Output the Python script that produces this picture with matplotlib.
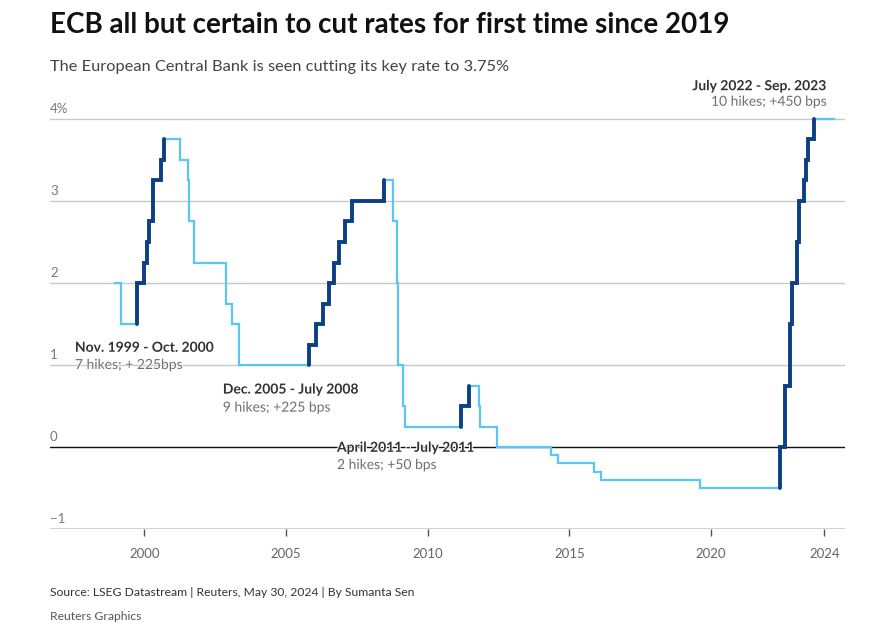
import numpy as np
import matplotlib.pyplot as plt
import matplotlib.transforms as mtransforms
import matplotlib.patheffects as pe

plt.rcParams['font.family'] = ['Lato', 'DejaVu Sans']

# ECB deposit rate: dates of each change (decimal years) and the new rate (%)
change_dates = [1998.96, 1999.17, 1999.75, 2000.00, 2000.08, 2000.17, 2000.31, 2000.59, 2000.68,
                2001.26, 2001.53, 2001.59, 2001.76, 2002.87, 2003.10, 2003.34,
                2005.82, 2006.06, 2006.32, 2006.52, 2006.68, 2006.87, 2007.08, 2007.34, 2008.46,
                2008.76, 2008.91, 2008.94, 2009.14, 2009.20,
                2011.16, 2011.46, 2011.81, 2011.86, 2012.46,
                2014.35, 2014.61, 2015.86, 2016.12, 2019.61,
                2022.44, 2022.62, 2022.79, 2022.87, 2023.02, 2023.11, 2023.27, 2023.35, 2023.43,
                2023.64, 2024.35]
rates = [2.0, 1.5, 2.0, 2.25, 2.5, 2.75, 3.25, 3.5, 3.75,
         3.5, 3.25, 2.75, 2.25, 1.75, 1.5, 1.0,
         1.25, 1.5, 1.75, 2.0, 2.25, 2.5, 2.75, 3.0, 3.25,
         2.75, 2.0, 1.0, 0.5, 0.25,
         0.5, 0.75, 0.5, 0.25, 0.0,
         -0.1, -0.2, -0.3, -0.4, -0.5,
         0.0, 0.75, 1.5, 2.0, 2.5, 3.0, 3.25, 3.5, 3.75,
         4.0, 4.0]

# hiking cycles: first and last hike dates
hike_start = [1999.75, 2005.82, 2011.16, 2022.44]
hike_end = [2000.68, 2008.46, 2011.46, 2023.64]
hike_titles = ['Nov. 1999 - Oct. 2000', 'Dec. 2005 - July 2008',
               'April 2011 - July 2011', 'July 2022 - Sep. 2023']
hike_notes = ['7 hikes; + 225bps', '9 hikes; +225 bps', '2 hikes; +50 bps', '10 hikes; +450 bps']

year_ticks = [2000, 2005, 2010, 2015, 2020, 2024]
rate_ticks = [-1, 0, 1, 2, 3, 4]
rate_labels = ['\u22121', '0', '1', '2', '3', '4%']

LIGHT = '#5ac6f5'
DARK = '#0c3f84'


def step_coords(d, r):
    xs, ys = [d[0]], [r[0]]
    for i in range(1, len(d)):
        xs += [d[i], d[i]]
        ys += [r[i - 1], r[i]]
    return xs, ys


dates = np.array(change_dates)
vals = np.array(rates)

fig = plt.figure(figsize=(8.87, 6.29), dpi=100)
ax = fig.add_axes([50 / 887, 1 - 529 / 629, 795 / 887, (529 - 110.8) / 629])

xs, ys = step_coords(dates, vals)
ax.plot(xs, ys, color=LIGHT, lw=1.6, solid_joinstyle='miter', zorder=3)

for s, e in zip(hike_start, hike_end):
    i0 = int(np.argmin(np.abs(dates - s)))
    i1 = int(np.argmin(np.abs(dates - e)))
    hx, hy = step_coords(dates[i0:i1 + 1], vals[i0:i1 + 1])
    hx = [dates[i0]] + hx
    hy = [vals[i0 - 1]] + hy
    ax.plot(hx, hy, color=DARK, lw=2.8, solid_capstyle='round', solid_joinstyle='miter', zorder=4)

ax.set_xlim(1996.67, 2024.73)
ax.set_ylim(-1, 4.1)

# grid lines and labels above them
for v, lab in zip(rate_ticks, rate_labels):
    if v == 0:
        ax.axhline(v, color='#111111', lw=1.0, zorder=2)
    elif v == -1:
        ax.axhline(v, color='#cccccc', lw=2.0, zorder=2)
    else:
        ax.axhline(v, color='#c8c8c8', lw=1.0, zorder=1)
    trans = mtransforms.offset_copy(ax.get_yaxis_transform(), fig=fig, x=0, y=3, units='points')
    ax.text(0, v, lab, transform=trans, ha='left', va='bottom', fontsize=9.5,
            color='#777777')

ax.set_yticks([])
ax.set_xticks(year_ticks)
ax.set_xticklabels([str(y) for y in year_ticks], fontsize=9.5, color='#666666')
ax.tick_params(axis='x', length=5, width=1, color='#555555', pad=9)
for sp in ax.spines.values():
    sp.set_visible(False)

# annotations for the hiking cycles
label_pos = [(1997.55, 1.21, 1.0, 'left'), (2002.77, 0.70, 0.48, 'left'),
             (2006.80, -0.01, -0.22, 'left'), (2024.09, 4.40, 4.21, 'right')]
for (x, y1, y2, ha), t, n in zip(label_pos, hike_titles, hike_notes):
    ax.text(x, y1, t, ha=ha, va='center', fontsize=10, fontweight='bold', color='#333333',
            path_effects=[pe.withStroke(linewidth=1.5, foreground='white')], zorder=5, clip_on=False)
    ax.text(x, y2, n, ha=ha, va='center', fontsize=10, color='#707070',
            path_effects=[pe.withStroke(linewidth=1.0, foreground='white')], zorder=5, clip_on=False)

fig.text(50 / 887, 1 - 25 / 629, 'ECB all but certain to cut rates for first time since 2019',
         fontsize=20, fontweight='bold', color='#111111', va='center', ha='left')
fig.text(50 / 887, 1 - 67 / 629, 'The European Central Bank is seen cutting its key rate to 3.75%',
         fontsize=11.8, color='#444444', va='center', ha='left')
fig.text(50 / 887, 1 - 593 / 629, 'Source: LSEG Datastream | Reuters, May 30, 2024 | By Sumanta Sen',
         fontsize=8.7, color='#333333', va='center', ha='left')
fig.text(50 / 887, 1 - 617 / 629, 'Reuters Graphics', fontsize=8.7, color='#555555',
         va='center', ha='left')

fig.savefig('out.png', dpi=100, facecolor='white')
